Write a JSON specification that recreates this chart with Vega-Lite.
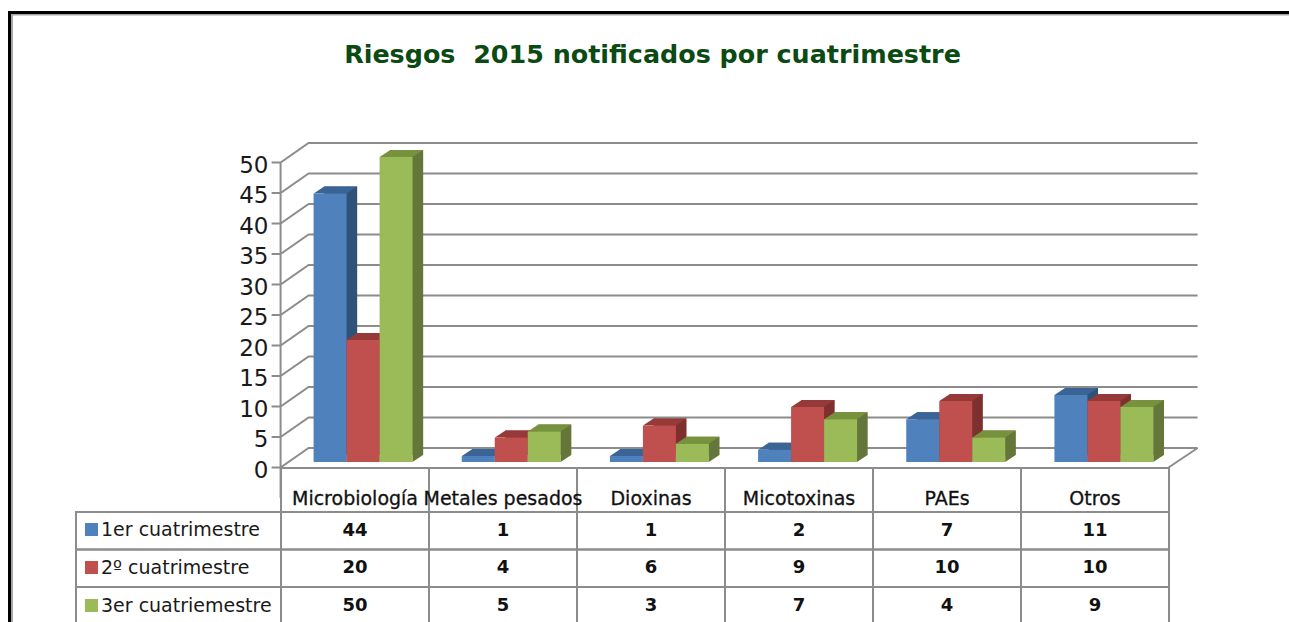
{
"$schema":"https://vega.github.io/schema/vega-lite/v6.json",
"width":1289,"height":622,"padding":0,"autosize":{"type":"none"},"background":"white",
"config":{"view":{"stroke":null}},
"title":{"text":"Riesgos \u00a02015 notificados por cuatrimestre","font":"DejaVu Sans","fontSize":25.4,"fontWeight":"bold","color":"#0B4A12","anchor":"middle","dx":8,"offset":-88,"baseline":"alphabetic"},
"datasets":{
"d":[
{"cat":"Microbiología","serie":"1er cuatrimestre","v":44},{"cat":"Microbiología","serie":"2º cuatrimestre","v":20},{"cat":"Microbiología","serie":"3er cuatriemestre","v":50},
{"cat":"Metales pesados","serie":"1er cuatrimestre","v":1},{"cat":"Metales pesados","serie":"2º cuatrimestre","v":4},{"cat":"Metales pesados","serie":"3er cuatriemestre","v":5},
{"cat":"Dioxinas","serie":"1er cuatrimestre","v":1},{"cat":"Dioxinas","serie":"2º cuatrimestre","v":6},{"cat":"Dioxinas","serie":"3er cuatriemestre","v":3},
{"cat":"Micotoxinas","serie":"1er cuatrimestre","v":2},{"cat":"Micotoxinas","serie":"2º cuatrimestre","v":9},{"cat":"Micotoxinas","serie":"3er cuatriemestre","v":7},
{"cat":"PAEs","serie":"1er cuatrimestre","v":7},{"cat":"PAEs","serie":"2º cuatrimestre","v":10},{"cat":"PAEs","serie":"3er cuatriemestre","v":4},
{"cat":"Otros","serie":"1er cuatrimestre","v":11},{"cat":"Otros","serie":"2º cuatrimestre","v":10},{"cat":"Otros","serie":"3er cuatriemestre","v":9}
],
"grid":[{"cat":"Microbiología","v":0},{"cat":"Microbiología","v":5},{"cat":"Microbiología","v":10},{"cat":"Microbiología","v":15},{"cat":"Microbiología","v":20},{"cat":"Microbiología","v":25},{"cat":"Microbiología","v":30},{"cat":"Microbiología","v":35},{"cat":"Microbiología","v":40},{"cat":"Microbiología","v":45},{"cat":"Microbiología","v":50}],
"cats":[{"cat":"Microbiología"},{"cat":"Metales pesados"},{"cat":"Dioxinas"},{"cat":"Micotoxinas"},{"cat":"PAEs"},{"cat":"Otros"}],
"series":[{"serie":"1er cuatrimestre"},{"serie":"2º cuatrimestre"},{"serie":"3er cuatriemestre"}],
"frame":[{"k":"marco"}]
},
"layer":[
{"data":{"name":"frame"},"mark":{"type":"rect","fill":"transparent","stroke":"#A6A6A6","strokeWidth":2},
 "encoding":{"x":{"field":"k","type":"nominal","axis":null,"scale":{"range":[12,1340],"paddingInner":0,"paddingOuter":0}},"y":{"field":"k","type":"nominal","axis":null,"scale":{"range":[14.5,700],"paddingInner":0,"paddingOuter":0}}}},
{"data":{"name":"frame"},"mark":{"type":"rect","fill":"transparent","stroke":"#000000","strokeWidth":3},
 "encoding":{"x":{"field":"k","type":"nominal","axis":null,"scale":{"range":[9.5,1340],"paddingInner":0,"paddingOuter":0}},"y":{"field":"k","type":"nominal","axis":null,"scale":{"range":[12.5,700],"paddingInner":0,"paddingOuter":0}}}},
{"data":{"name":"grid"},"mark":{"type":"point","filled":false,"size":4,"opacity":1,"stroke":"#8C8C8C","strokeWidth":2,"shape":"M-91.5,5.5 L-82.5,5.5 L-54.5,-14 L834.5,-14 M-82.5,5.5 L-82.5,36"},
 "encoding":{
  "x":{"field":"cat","type":"nominal","axis":null,"scale":{"domain":["Microbiología","Metales pesados","Dioxinas","Micotoxinas","PAEs","Otros"],"range":[289,1178],"paddingInner":0,"paddingOuter":0}},
  "y":{"field":"v","type":"quantitative","stack":null,"axis":{"orient":"left","offset":-281,"values":[0,5,10,15,20,25,30,35,40,45,50],"domain":false,"ticks":false,"grid":false,"title":null,"labelPadding":13,"labelOffset":8,"labelFont":"DejaVu Sans","labelFontSize":23,"labelColor":"#1A1A1A"},"scale":{"domain":[0,50],"range":[462,157],"nice":false,"zero":true}}}},
{"data":{"name":"d"},"mark":{"type":"bar"},
 "encoding":{
  "x":{"field":"cat","type":"nominal","axis":null,"scale":{"domain":["Microbiología","Metales pesados","Dioxinas","Micotoxinas","PAEs","Otros"],"range":[299.6,1188.6],"paddingInner":0,"paddingOuter":0}},
  "y":{"field":"v","type":"quantitative","stack":null,"axis":null,"scale":{"domain":[0,50],"range":[455,150],"nice":false,"zero":true}},
  "y2":{"datum":0},
  "xOffset":{"field":"serie","type":"nominal","scale":{"paddingInner":0,"paddingOuter":0.745}},
  "color":{"field":"serie","type":"nominal","legend":null,"scale":{"domain":["1er cuatrimestre","2º cuatrimestre","3er cuatriemestre"],"range":["#2F527A","#7E302E","#64763A"]}}}},
{"resolve":{"scale":{"color":"independent"}},
 "encoding":{
  "x":{"field":"cat","type":"nominal","axis":null,"scale":{"domain":["Microbiología","Metales pesados","Dioxinas","Micotoxinas","PAEs","Otros"],"range":[289,1178],"paddingInner":0,"paddingOuter":0}},
  "y":{"field":"v","type":"quantitative","stack":null,"axis":null,"scale":{"domain":[0,50],"range":[462,157],"nice":false,"zero":true}}
 },
 "layer":[
 {"data":{"name":"grid"},"transform":[{"filter":"datum.v === 0"}],"mark":{"type":"point","filled":false,"size":4,"opacity":1,"stroke":"#8C8C8C","strokeWidth":2,"shape":"M805.5,5.5 L834.5,-14"}},
 {"data":{"name":"d"},"mark":{"type":"point","filled":true,"size":4,"opacity":1,"strokeWidth":0,"shape":"M16.4,0 L16.4,-7 L27,-7 Z"},
  "encoding":{"xOffset":{"field":"serie","type":"nominal","scale":{"paddingInner":0,"paddingOuter":0.745}},"y":{"datum":0,"type":"quantitative"},"color":{"field":"serie","type":"nominal","legend":null,"scale":{"domain":["1er cuatrimestre","2º cuatrimestre","3er cuatriemestre"],"range":["#2F527A","#7E302E","#64763A"]}}}},
 {"data":{"name":"d"},"mark":{"type":"point","filled":true,"size":4,"opacity":1,"strokeWidth":0,"shape":"M-16.4,0 L16.4,0 L27,-7 L-5.9,-7 Z"},
  "encoding":{"xOffset":{"field":"serie","type":"nominal","scale":{"paddingInner":0,"paddingOuter":0.745}},"color":{"field":"serie","type":"nominal","legend":null,"scale":{"domain":["1er cuatrimestre","2º cuatrimestre","3er cuatriemestre"],"range":["#3B6496","#953A38","#76923C"]}}}},
 {"data":{"name":"d"},"mark":{"type":"bar"},
  "encoding":{"xOffset":{"field":"serie","type":"nominal","scale":{"paddingInner":0,"paddingOuter":0.745}},"y2":{"datum":0},"color":{"field":"serie","type":"nominal","scale":{"domain":["1er cuatrimestre","2º cuatrimestre","3er cuatriemestre"],"range":["#4F81BD","#C0504D","#9BBB59"]},
   "legend":{"orient":"none","legendX":82,"legendY":520,"title":null,"symbolType":"square","symbolSize":169,"symbolStrokeWidth":0,"symbolOpacity":1,"labelFont":"DejaVu Sans","labelFontSize":19,"labelColor":"#1A1A1A","labelOffset":0,"labelLimit":250,"rowPadding":18,"padding":0}}}}
 ]},
{"data":{"name":"cats"},"mark":{"type":"rect","fill":"transparent","stroke":"#8C8C8C","strokeWidth":2},
 "encoding":{"x":{"field":"cat","type":"nominal","axis":null,"scale":{"domain":["Microbiología","Metales pesados","Dioxinas","Micotoxinas","PAEs","Otros"],"range":[281,1169],"paddingInner":0,"paddingOuter":0}},"y":{"datum":"h","type":"nominal","axis":null,"scale":{"domain":["h"],"range":[468,512],"paddingInner":0,"paddingOuter":0}}}},
{"data":{"name":"cats"},"mark":{"type":"text","font":"DejaVu Sans","fontSize":19,"color":"#111111","stroke":"#111111","strokeWidth":0.3,"yOffset":9},
 "encoding":{"text":{"field":"cat"},"x":{"field":"cat","type":"nominal","axis":null,"scale":{"domain":["Microbiología","Metales pesados","Dioxinas","Micotoxinas","PAEs","Otros"],"range":[281,1169],"paddingInner":0,"paddingOuter":0}},"y":{"datum":"h","type":"nominal","axis":null,"scale":{"domain":["h"],"range":[468,512],"paddingInner":0,"paddingOuter":0}}}},
{"data":{"name":"d"},"mark":{"type":"rect","fill":"transparent","stroke":"#8C8C8C","strokeWidth":2},
 "encoding":{"x":{"field":"cat","type":"nominal","axis":null,"scale":{"domain":["Microbiología","Metales pesados","Dioxinas","Micotoxinas","PAEs","Otros"],"range":[281,1169],"paddingInner":0,"paddingOuter":0}},"y":{"field":"serie","type":"nominal","axis":null,"scale":{"domain":["1er cuatrimestre","2º cuatrimestre","3er cuatriemestre"],"range":[512,624.5],"paddingInner":0,"paddingOuter":0}}}},
{"data":{"name":"d"},"mark":{"type":"text","font":"DejaVu Sans","fontSize":18,"fontWeight":"bold","color":"#111111"},
 "encoding":{"text":{"field":"v","type":"quantitative"},"x":{"field":"cat","type":"nominal","axis":null,"scale":{"domain":["Microbiología","Metales pesados","Dioxinas","Micotoxinas","PAEs","Otros"],"range":[281,1169],"paddingInner":0,"paddingOuter":0}},"y":{"field":"serie","type":"nominal","axis":null,"scale":{"domain":["1er cuatrimestre","2º cuatrimestre","3er cuatriemestre"],"range":[512,624.5],"paddingInner":0,"paddingOuter":0}}}},
{"data":{"name":"series"},"mark":{"type":"rect","fill":"transparent","stroke":"#8C8C8C","strokeWidth":2},
 "encoding":{"x":{"datum":"leyenda","type":"nominal","axis":null,"scale":{"domain":["leyenda"],"range":[76,281],"paddingInner":0,"paddingOuter":0}},"y":{"field":"serie","type":"nominal","axis":null,"scale":{"domain":["1er cuatrimestre","2º cuatrimestre","3er cuatriemestre"],"range":[512,624.5],"paddingInner":0,"paddingOuter":0}}}}
],
"resolve":{"scale":{"x":"independent","y":"independent","color":"independent","xOffset":"independent"}}
}
